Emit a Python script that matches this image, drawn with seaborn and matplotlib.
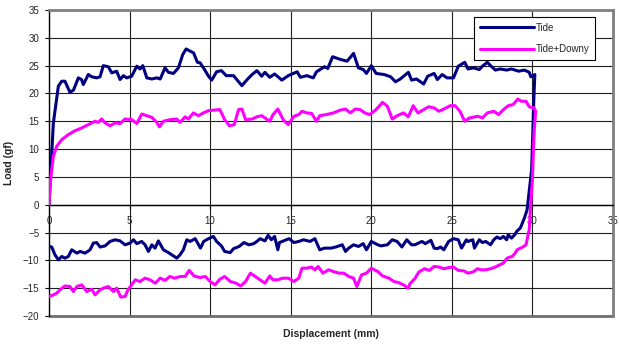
import numpy as np
import pandas as pd
import matplotlib
matplotlib.use("Agg")
import matplotlib.pyplot as plt
import seaborn as sns

# loading branch (0 -> 30 mm) and unloading branch (30 -> 0 mm)
tide_up_x = [0.0, 0.27, 0.58, 0.79, 0.99, 1.3, 1.52, 1.82, 2.02, 2.13, 2.44, 2.65, 2.96, 3.17, 3.37, 3.68,
  3.89, 4.2, 4.41, 4.62, 4.82, 5.13, 5.45, 5.65, 5.82, 6.07, 6.38, 6.69, 6.9, 7.2, 7.41, 7.72, 8.03, 8.3,
  8.51, 8.76, 8.97, 9.21, 9.38, 9.63, 9.9, 10.1, 10.4, 10.7, 11.0, 11.45, 11.97, 12.3, 12.6, 12.9, 13.2,
  13.4, 13.7, 14.0, 14.45, 14.85, 15.4, 15.6, 16.0, 16.4, 16.6, 17.1, 17.3, 17.6, 18.1, 18.5, 18.9, 19.2,
  19.5, 19.7, 20.0, 20.3, 20.8, 21.2, 21.5, 21.8, 22.3, 22.5, 22.8, 23.25, 23.5, 23.9, 24.1, 24.4, 24.7,
  25.1, 25.4, 25.8, 26.0, 26.35, 26.7, 26.9, 27.2, 27.4, 27.7, 28.0, 28.4, 28.7, 29.15, 29.5, 29.8, 29.9,
  30.15]
tide_up_y = [0.0, 14.7, 21.3, 22.2, 22.2, 20.2, 20.6, 22.8, 22.5, 21.6, 23.4, 23.0, 22.8, 23.0, 25.0, 24.8,
  23.7, 24.0, 22.5, 23.2, 22.8, 23.1, 24.9, 24.4, 25.0, 22.8, 22.6, 22.8, 22.6, 24.6, 23.8, 23.6, 24.6, 27.0,
  28.0, 27.6, 27.3, 25.6, 25.5, 24.4, 23.1, 22.4, 23.9, 24.1, 23.2, 23.2, 21.4, 22.5, 23.4, 24.1, 23.1,
  23.8, 22.9, 23.5, 22.4, 23.2, 23.9, 22.9, 23.2, 22.8, 23.9, 24.8, 24.5, 26.6, 26.1, 25.8, 27.2, 24.6,
  24.3, 23.6, 25.0, 23.6, 23.4, 23.0, 22.1, 22.6, 23.8, 22.4, 22.6, 21.7, 23.1, 23.6, 22.5, 23.4, 22.8,
  22.8, 24.9, 25.6, 24.4, 24.6, 24.3, 24.9, 25.6, 25.0, 24.2, 24.4, 24.2, 24.4, 24.0, 24.2, 23.8, 23.0,
  23.4]
tide_down_x = [30.1, 29.95, 29.67, 29.5, 29.25, 29.05, 28.9, 28.7, 28.5, 28.4, 28.2, 28.0, 27.8, 27.6, 27.4,
  27.1, 26.9, 26.7, 26.4, 26.3, 26.0, 25.9, 25.6, 25.4, 25.1, 24.8, 24.5, 24.3, 24.1, 23.9, 23.7, 23.35,
  23.15, 22.7, 22.5, 22.2, 21.9, 21.6, 21.3, 21.0, 20.6, 20.4, 20.0, 19.7, 19.5, 19.2, 18.9, 18.6, 18.4,
  18.2, 17.8, 17.5, 17.1, 16.8, 16.5, 16.2, 15.8, 15.5, 15.2, 14.9, 14.55, 14.3, 14.2, 14.0, 13.8, 13.6,
  13.4, 13.1, 12.9, 12.7, 12.4, 12.1, 11.8, 11.45, 11.25, 10.9, 10.7, 10.4, 10.2, 9.9, 9.6, 9.4, 9.07,
  8.76, 8.55, 8.34, 8.13, 7.93, 7.62, 7.41, 7.1, 6.79, 6.58, 6.38, 6.17, 5.96, 5.75, 5.45, 5.24, 5.03,
  4.72, 4.41, 4.1, 3.79, 3.48, 3.17, 2.96, 2.75, 2.55, 2.24, 1.93, 1.73, 1.41, 1.2, 0.99, 0.79, 0.58,
  0.37, 0.17, 0.0]
tide_down_y = [20.0, 6.3, -0.9, -2.4, -4.2, -4.7, -5.4, -6.0, -5.4, -6.3, -5.7, -6.1, -5.8, -6.3, -7.2,
  -6.6, -6.8, -6.3, -7.8, -6.3, -6.6, -6.3, -7.8, -6.3, -6.1, -6.6, -8.1, -7.6, -7.9, -7.8, -6.4, -7.0,
  -6.6, -7.2, -7.2, -6.3, -7.6, -6.6, -6.3, -7.2, -7.4, -7.2, -6.6, -8.1, -7.0, -7.5, -7.2, -7.8, -8.4,
  -7.2, -7.6, -7.8, -7.8, -8.1, -6.1, -6.6, -6.3, -6.6, -6.8, -6.1, -6.5, -6.8, -8.1, -5.7, -6.3, -5.5,
  -6.5, -6.1, -6.6, -7.0, -7.2, -6.8, -7.5, -7.9, -8.6, -8.4, -7.4, -6.6, -5.7, -6.1, -6.6, -7.8, -6.1,
  -6.6, -6.3, -8.1, -9.0, -9.6, -9.0, -8.6, -8.1, -6.5, -7.8, -7.2, -8.4, -7.2, -6.6, -7.0, -6.3, -6.9,
  -7.2, -6.5, -6.3, -6.6, -7.4, -7.6, -6.8, -6.9, -8.1, -8.7, -8.4, -8.7, -8.1, -9.3, -9.6, -9.3, -9.9,
  -9.0, -7.6, -7.5]

downy_up_x = [0.0, 0.1, 0.27, 0.48, 0.79, 1.2, 1.61, 2.03, 2.44, 2.86, 3.06, 3.27, 3.48, 3.79, 4.1, 4.41,
  4.72, 5.13, 5.45, 5.76, 6.07, 6.38, 6.69, 6.85, 7.1, 7.52, 7.93, 8.13, 8.45, 8.65, 8.96, 9.27, 9.58,
  9.9, 10.2, 10.6, 10.9, 11.2, 11.5, 11.76, 11.97, 12.2, 12.6, 12.9, 13.2, 13.4, 13.7, 13.9, 14.2, 14.55,
  14.85, 15.2, 15.5, 15.7, 16.0, 16.3, 16.6, 16.8, 17.2, 17.65, 18.07, 18.4, 18.7, 19.0, 19.3, 19.6, 19.9,
  20.3, 20.7, 21.0, 21.3, 21.6, 22.0, 22.3, 22.6, 22.9, 23.25, 23.55, 23.9, 24.2, 24.5, 24.9, 25.2, 25.5,
  25.8, 26.1, 26.6, 26.9, 27.2, 27.6, 27.9, 28.2, 28.5, 28.8, 29.1, 29.3, 29.6, 29.8, 30.1, 30.2]
downy_up_y = [0.0, 4.5, 8.7, 10.5, 11.7, 12.6, 13.3, 13.8, 14.4, 15.0, 14.8, 15.4, 14.7, 14.2, 14.7, 14.6,
  15.4, 15.3, 14.6, 16.3, 16.0, 15.7, 14.8, 14.0, 15.0, 15.3, 15.4, 14.8, 15.8, 15.4, 16.5, 16.0, 16.5,
  16.9, 17.0, 17.1, 15.3, 14.2, 14.4, 17.1, 17.2, 15.3, 15.4, 15.8, 16.0, 15.6, 15.0, 16.2, 17.2, 15.2,
  14.4, 15.9, 16.2, 16.8, 16.5, 16.4, 15.0, 16.0, 16.2, 16.5, 17.0, 17.2, 16.5, 17.2, 17.1, 16.5, 16.2,
  17.1, 18.4, 17.7, 15.4, 16.0, 16.5, 15.8, 17.8, 16.5, 17.1, 17.6, 17.4, 16.8, 17.2, 17.8, 17.8, 16.8,
  15.0, 15.6, 15.9, 15.6, 16.5, 16.8, 16.2, 17.1, 17.8, 18.0, 19.0, 18.6, 18.6, 17.6, 17.4, 16.8]
downy_down_x = [30.1, 30.0, 29.9, 29.8, 29.6, 29.4, 29.05, 28.9, 28.75, 28.5, 28.4, 28.2, 27.9, 27.7, 27.4,
  27.1, 26.8, 26.6, 26.3, 26.0, 25.75, 25.4, 25.1, 24.8, 24.5, 24.2, 23.9, 23.6, 23.3, 22.95, 22.7, 22.4,
  22.3, 22.0, 21.7, 21.4, 21.1, 20.7, 20.4, 20.0, 19.7, 19.4, 19.1, 18.9, 18.6, 18.3, 18.0, 17.65, 17.35,
  17.0, 16.7, 16.5, 16.3, 16.0, 15.7, 15.5, 15.2, 14.85, 14.5, 14.2, 13.9, 13.7, 13.4, 13.1, 12.8, 12.5,
  12.2, 11.9, 11.6, 11.25, 10.9, 10.6, 10.3, 10.0, 9.7, 9.38, 9.0, 8.7, 8.45, 8.14, 7.8, 7.5, 7.2, 6.9,
  6.6, 6.27, 5.96, 5.65, 5.35, 5.13, 4.9, 4.72, 4.45, 4.2, 4.0, 3.68, 3.37, 3.17, 2.86, 2.65, 2.34, 2.03,
  1.73, 1.51, 1.3, 0.99, 0.68, 0.48, 0.27, 0.0]
downy_down_y = [12.9, 4.5, 0.3, -4.5, -7.2, -7.6, -8.1, -8.8, -9.3, -9.5, -9.7, -10.5, -10.9, -11.2, -11.5,
  -11.7, -11.7, -11.5, -12.1, -12.3, -11.9, -11.8, -11.2, -11.3, -11.5, -11.2, -11.1, -11.8, -11.5, -12.1,
  -13.3, -14.2, -15.0, -14.4, -14.0, -13.8, -13.2, -12.8, -12.0, -11.4, -12.3, -12.6, -14.7, -13.2, -12.9,
  -12.3, -12.3, -12.0, -11.7, -12.3, -11.1, -11.7, -11.2, -11.4, -11.4, -13.2, -13.8, -13.2, -13.2, -13.5,
  -13.5, -12.8, -14.1, -13.5, -12.9, -12.3, -13.8, -14.6, -14.1, -13.8, -12.9, -13.4, -14.4, -13.8, -12.9,
  -13.1, -12.8, -11.8, -12.9, -12.9, -13.2, -12.9, -13.6, -13.2, -14.1, -13.5, -13.2, -13.8, -13.5, -14.4,
  -15.3, -16.5, -16.6, -15.0, -15.6, -14.7, -15.0, -15.3, -16.2, -15.2, -15.6, -14.4, -14.7, -15.6, -14.7,
  -14.6, -15.3, -15.9, -16.2, -16.5]

series_names = ["Tide", "Tide+Downy"]
series_colors = ["#000080", "#FF00FF"]
x_ticks = [0, 5, 10, 15, 20, 25, 30, 35]
y_ticks = [-20, -15, -10, -5, 0, 5, 10, 15, 20, 25, 30, 35]


def loop_frame(name, up_x, up_y, down_x, down_y):
  df = pd.DataFrame({"disp": up_x + down_x, "load": up_y + down_y})
  df["series"] = name
  return df


def plot_loops():
  sns.set_style("white")
  plt.rcParams["font.family"] = ["Liberation Sans", "DejaVu Sans"]

  fig, ax = plt.subplots(figsize=(6.19, 3.47), dpi=100)
  fig.subplots_adjust(left=49/619, right=613/619, top=1-10/347, bottom=1-316/347)

  frames = [loop_frame("Tide", tide_up_x, tide_up_y, tide_down_x, tide_down_y),
            loop_frame("Tide+Downy", downy_up_x, downy_up_y, downy_down_x, downy_down_y)]
  for df, name, col in zip(frames, series_names, series_colors):
    sns.lineplot(data=df, x="disp", y="load", sort=False, estimator=None, color=col,
                 linewidth=2.2, label=name, ax=ax, zorder=3)

  ax.set_xlim(0, 35)
  ax.set_ylim(-20, 35)
  ax.set_xticks(x_ticks)
  ax.set_yticks(y_ticks)
  ax.grid(True, color="#202020", linewidth=0.8)
  ax.set_axisbelow(True)

  # x axis crosses at zero, plot area framed in grey
  ax.spines["bottom"].set_position(("data", 0))
  ax.spines["bottom"].set_color("black")
  ax.spines["bottom"].set_linewidth(1.0)
  ax.spines["left"].set_color("black")
  ax.spines["left"].set_linewidth(1.0)
  for s in ["top", "right"]:
    ax.spines[s].set_color("#808080")
    ax.spines[s].set_linewidth(2.0)
  ax.axhline(-20, color="#707070", linewidth=2.0, clip_on=False, zorder=2)

  ax.tick_params(axis="both", direction="out", length=3, width=0.8, color="black",
                 labelsize=7, bottom=True, left=True)
  ax.tick_params(axis="x", pad=5)
  ax.tick_params(axis="y", pad=4)

  ax.set_xlabel("")
  ax.set_ylabel("Load (gf)", fontsize=7.5, fontweight="bold")
  ax.yaxis.set_label_coords(-35/564, 0.5)
  fig.text(331/619, 1-334/347, "Displacement (mm)", ha="center", va="center",
           fontsize=7.5, fontweight="bold")

  leg = ax.legend(loc="upper right", bbox_to_anchor=(546/564, 1-7/306), borderaxespad=0,
                  fontsize=7, frameon=True, fancybox=False, handlelength=5.6,
                  handletextpad=0.1, labelspacing=1.2, borderpad=0.6)
  leg.get_frame().set_edgecolor("black")
  leg.get_frame().set_linewidth(0.8)
  leg.get_frame().set_alpha(1)

  fig.savefig("out.png", dpi=100)


plot_loops()
